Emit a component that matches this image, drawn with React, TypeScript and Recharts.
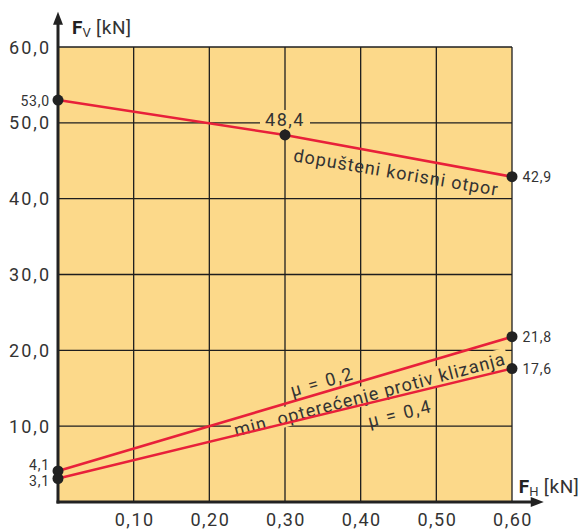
import React from "react";
import { LineChart, Line, XAxis, YAxis, CartesianGrid, ReferenceLine, ReferenceDot } from "recharts";

const X_TICKS = [0.1, 0.2, 0.3, 0.4, 0.5, 0.6];
const Y_TICKS = [10, 20, 30, 40, 50, 60];

const OTPOR_FH = [0, 0.3, 0.6];
const OTPOR_FV = [53.0, 48.4, 42.9];
const MU02_FH = [0, 0.6];
const MU02_FV = [4.1, 21.8];
const MU04_FH = [0, 0.6];
const MU04_FV = [3.1, 17.6];

// arrow tips of the axes (data units)
const X_ARROW = 0.642;
const Y_ARROW = 64.65;

const NOTES = [
  { text: "dopušteni korisni otpor", x: 0.447, y: 43.5, angle: 9.6, box: false },
  { text: "μ = 0,2", x: 0.349, y: 15.9, angle: -16, box: false },
  { text: "min. opterećenje protiv klizanja", x: 0.412, y: 14.2, angle: -15, box: true },
  { text: "μ = 0,4", x: 0.452, y: 11.7, angle: -14, box: false },
];

const RED = "#E8203A";
const INK = "#333";
const BG = "#FCD98A";
const FONT = "Roboto, 'Liberation Sans', sans-serif";

const comma = (v: number, d: number) => v.toFixed(d).replace(".", ",");

const toRows = (xs: number[], ys: number[]) => xs.map((x, i) => ({ fh: x, fv: ys[i] }));

const makeDot = (leftDy: number) => (p: any) => {
  const { cx, cy, payload, index } = p;
  const fh = payload.fh;
  let label = null;
  if (fh === 0) {
    label = (
      <text x={cx - 8} y={cy + leftDy} textAnchor="end" dominantBaseline="central" fontSize={14} letterSpacing={0.8} fill={INK} fontFamily={FONT}>
        {comma(payload.fv, 1)}
      </text>
    );
  } else if (fh === 0.6) {
    label = (
      <text x={cx + 40} y={cy} textAnchor="end" dominantBaseline="central" fontSize={14} letterSpacing={0.8} fill={INK} fontFamily={FONT}>
        {comma(payload.fv, 1)}
      </text>
    );
  } else {
    label = (
      <g>
        <rect x={cx - 25} y={cy - 25} width={50} height={19} fill={BG} />
        <text x={cx} y={cy - 15} textAnchor="middle" dominantBaseline="central" fontSize={18} letterSpacing={1.5} fill={INK} fontFamily={FONT}>
          {comma(payload.fv, 1)}
        </text>
      </g>
    );
  }
  return (
    <g key={`d-${index}-${fh}`}>
      <circle cx={cx} cy={cy} r={5.5} fill="#222" />
      {label}
    </g>
  );
};

const YTick = (p: any) => (
  <text x={p.x + 1} y={p.y} textAnchor="end" dominantBaseline="central" fontSize={18} letterSpacing={2} fill={INK} fontFamily={FONT}>
    {comma(p.payload.value, 1)}
  </text>
);

const XTick = (p: any) => (
  <text x={p.x + 1} y={p.y + 9} textAnchor="middle" dominantBaseline="central" fontSize={18} letterSpacing={1.5} fill={INK} fontFamily={FONT}>
    {comma(p.payload.value, 2)}
  </text>
);

const Title = ({ x, y, sub }: { x: number; y: number; sub: string }) => (
  <text x={x} y={y} fill={INK} fontFamily={FONT} fontSize={19}>
    <tspan fontWeight={700} fill="#222">F</tspan>
    <tspan fontSize={13} dy={3}>{sub}</tspan>
    <tspan dy={-3} letterSpacing={0.6}> [kN]</tspan>
  </text>
);

const yArrow = (p: any) => {
  const { x1, y1, x2, y2 } = p;
  return (
    <g>
      <line x1={x1} y1={y1 + 1.5} x2={x2} y2={y2 + 10} stroke="#222" strokeWidth={3} />
      <polygon points={`${x2},${y2} ${x2 - 5},${y2 + 13} ${x2 + 5},${y2 + 13}`} fill="#222" />
      <Title x={x2 + 14} y={y2 + 22} sub="V" />
    </g>
  );
};

const xArrow = (p: any) => {
  const { x1, y1, x2, y2 } = p;
  return (
    <g>
      <line x1={x1 - 1.5} y1={y1} x2={x2 - 10} y2={y2} stroke="#222" strokeWidth={3} />
      <polygon points={`${x2},${y2} ${x2 - 13},${y2 - 5} ${x2 - 13},${y2 + 5}`} fill="#222" />
      <Title x={x2 - 25} y={y2 - 9} sub="H" />
    </g>
  );
};

const noteShape = (n: (typeof NOTES)[number]) => (p: any) => {
  const { cx, cy } = p;
  const short = n.text.length < 10;
  const w = n.text.length * 8.9;
  return (
    <g transform={`rotate(${n.angle}, ${cx}, ${cy})`}>
      {n.box && <rect x={cx - w / 2} y={cy - 10} width={w} height={20} fill={BG} />}
      <text x={cx} y={cy} textAnchor="middle" dominantBaseline="central" fontSize={18} letterSpacing={short ? 1.8 : 1} fill={INK} fontFamily={FONT}>
        {n.text}
      </text>
    </g>
  );
};

export default function App() {
  return (
    <div style={{ position: "absolute", left: 0, top: 0, width: 582, height: 531, background: "#fff" }}>
      <LineChart width={582} height={531} margin={{ top: 47, right: 70, bottom: 28, left: 57 }}>
        <CartesianGrid fill={BG} fillOpacity={1} stroke="#1e1e1e" strokeWidth={1.3} />
        <XAxis type="number" dataKey="fh" domain={[0, 0.6]} ticks={X_TICKS} height={1} axisLine={false} tickLine={false} tick={<XTick />} interval={0} />
        <YAxis type="number" dataKey="fv" domain={[0, 60]} ticks={Y_TICKS} width={1} axisLine={false} tickLine={false} tick={<YTick />} interval={0} />
        {NOTES.filter((n) => n.box).map((n) => (
          <ReferenceDot key={n.text} x={n.x} y={n.y} r={0} zIndex={150} shape={noteShape(n)} />
        ))}
        <Line data={toRows(OTPOR_FH, OTPOR_FV)} dataKey="fv" stroke={RED} strokeWidth={2.6} dot={makeDot(1)} activeDot={false} isAnimationActive={false} />
        <Line data={toRows(MU02_FH, MU02_FV)} dataKey="fv" stroke={RED} strokeWidth={2.6} dot={makeDot(-6)} activeDot={false} isAnimationActive={false} />
        <Line data={toRows(MU04_FH, MU04_FV)} dataKey="fv" stroke={RED} strokeWidth={2.6} dot={makeDot(3)} activeDot={false} isAnimationActive={false} />
        {NOTES.filter((n) => !n.box).map((n) => (
          <ReferenceDot key={n.text} x={n.x} y={n.y} r={0} shape={noteShape(n)} />
        ))}
        <ReferenceLine segment={[{ x: 0, y: 0 }, { x: 0, y: Y_ARROW }]} ifOverflow="visible" shape={yArrow} />
        <ReferenceLine segment={[{ x: 0, y: 0 }, { x: X_ARROW, y: 0 }]} ifOverflow="visible" shape={xArrow} />
      </LineChart>
    </div>
  );
}
